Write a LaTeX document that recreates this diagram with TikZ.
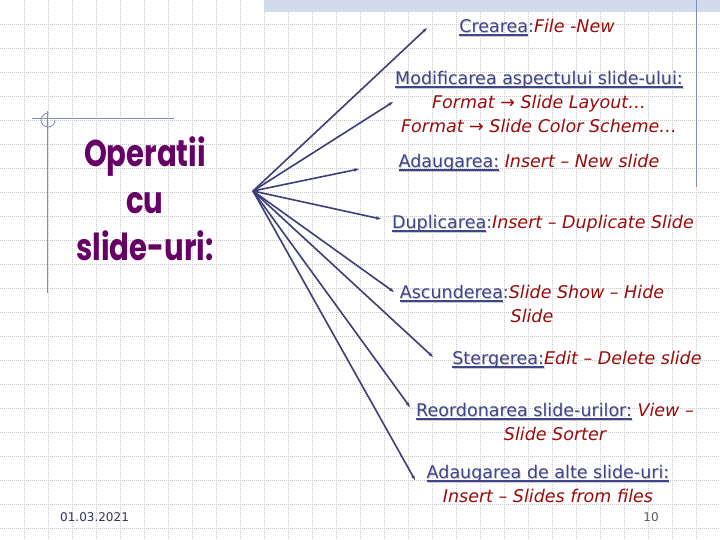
\documentclass[tikz,border=0pt]{standalone}
\usepackage{fontspec}
\setmainfont{DejaVu Sans}
\newfontfamily\titlefont{Poppins}
\usetikzlibrary{arrows.meta}
\definecolor{lnkc}{HTML}{40448A}
\definecolor{redc}{HTML}{9A0A0A}
\definecolor{linec}{HTML}{3E3E78}
\definecolor{titlec}{HTML}{660066}
\definecolor{gridc}{HTML}{C8C8C8}
\definecolor{bandc}{HTML}{D2DBEC}
\definecolor{decoc}{HTML}{7F8CC0}
\newcommand\lnk[1]{\setbox0\hbox{#1}%
  \rlap{\raisebox{-0.8pt}{\kern0.8pt\textcolor{black!18}{#1}}}%
  \rlap{\kern0.8pt\textcolor{black!20}{\rule[-4.2pt]{\wd0}{1.2pt}}}%
  \rlap{\rule[-3.2pt]{\wd0}{1.3pt}}\box0\relax}
\newcommand\rd[1]{\textcolor{redc}{\itshape #1}}
\newcommand\ttl[1]{\scalebox{0.94}[1.2]{#1}}
\begin{document}
\begin{tikzpicture}[x=1pt,y=-1pt,
  item/.style={align=center,text=lnkc,inner sep=0pt,font=\fontsize{17.5}{24}\selectfont},
  conn/.style={draw=linec,line width=1.6pt,-{Stealth[length=5pt,width=3.5pt]}}]
\useasboundingbox (0,0) rectangle (720,540);
\fill[white] (0,0) rectangle (720,540);
% grid
\foreach \x in {24,48,...,696} \draw[gridc,line width=0.6pt,dash pattern=on 1pt off 1pt] (\x,0) -- (\x,540);
\foreach \y in {24,48,...,528} \draw[gridc,line width=0.6pt,dash pattern=on 1pt off 1pt] (0,\y) -- (720,\y);
% decorations
\fill[bandc] (264,0) rectangle (720,12);
\draw[decoc,line width=1pt] (696,0) -- (696,187);
\draw[decoc,line width=1pt] (47,111) -- (47,293);
\draw[decoc,line width=1pt] (32,119) -- (174,119);
\draw[decoc,line width=0.8pt] (55,120) arc[start angle=0,end angle=275,radius=7];
% title
\node[text=titlec,align=center,font=\titlefont\bfseries\fontsize{31}{47}\selectfont] (title) at (145,199) {\ttl{Operatii}\\\ttl{cu}\\\ttl{slide-uri:}};
% hub
\coordinate (hub) at (253,191);
% items
\node[item] (crea) at (537,28) {\lnk{Crearea}:\rd{File -New}};
\node[item] (modif) at (539,102) {\lnk{Modificarea aspectului slide-ului:}\\\rd{Format → Slide Layout…}\\\rd{Format → Slide Color Scheme…}};
\node[item] (adaug) at (529,163) {\lnk{Adaugarea:} \rd{Insert – New slide}};
\node[item] (dupl) at (543,224) {\lnk{Duplicarea}:\rd{Insert – Duplicate Slide}};
\node[item] (ascund) at (532,304) {\lnk{Ascunderea}:\rd{Slide Show – Hide}\\\rd{Slide}};
\node[item] (sterg) at (577,360) {\lnk{Stergerea:}\rd{Edit – Delete slide}};
\node[item] (reord) at (555,422) {\lnk{Reordonarea slide-urilor:} \rd{View –}\\\rd{Slide Sorter}};
\node[item] (alte) at (548,484) {\lnk{Adaugarea de alte slide-uri:}\\\rd{Insert – Slides from files}};
% connector ends
\coordinate (ecrea) at (427,28);
\coordinate (emodif) at (393,102);
\coordinate (eadaug) at (359,169);
\coordinate (edupl) at (381,219);
\coordinate (eascund) at (394,292);
\coordinate (esterg) at (433,357);
\coordinate (ereord) at (410,407);
\coordinate (ealte) at (415,480);
\foreach \e in {ecrea,emodif,eadaug,edupl,eascund,esterg,ereord,ealte} \draw[conn] (hub) -- (\e);
% footer
\node[text=black!70!blue!60!gray,font=\fontsize{12}{14}\selectfont,anchor=west,inner sep=0pt] (date) at (60,517) {01.03.2021};
\node[text=black!65,font=\fontsize{12}{14}\selectfont,inner sep=0pt] (pnum) at (651,517) {10};
\end{tikzpicture}
\end{document}
